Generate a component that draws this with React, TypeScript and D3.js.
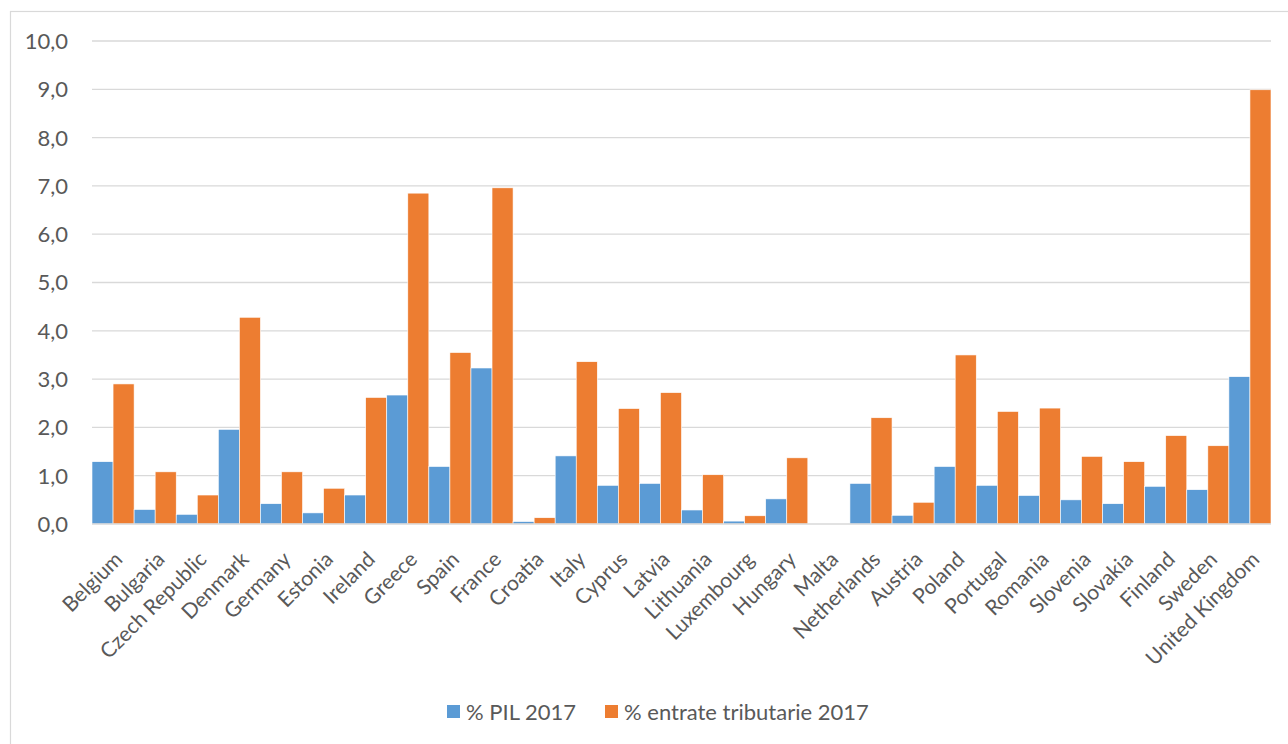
import React, { useEffect, useRef } from "react";
import * as d3 from "d3";

const countries = [
  "Belgium", "Bulgaria", "Czech Republic", "Denmark", "Germany", "Estonia", "Ireland",
  "Greece", "Spain", "France", "Croatia", "Italy", "Cyprus", "Latvia", "Lithuania",
  "Luxembourg", "Hungary", "Malta", "Netherlands", "Austria", "Poland", "Portugal",
  "Romania", "Slovenia", "Slovakia", "Finland", "Sweden", "United Kingdom",
];

// % PIL 2017
const pil = [
  1.29, 0.3, 0.2, 1.96, 0.42, 0.23, 0.6, 2.67, 1.19, 3.23, 0.05, 1.41, 0.8, 0.84,
  0.29, 0.06, 0.52, 0, 0.84, 0.18, 1.19, 0.8, 0.59, 0.5, 0.42, 0.78, 0.71, 3.05,
];

// % entrate tributarie 2017
const entrate = [
  2.9, 1.08, 0.6, 4.28, 1.08, 0.74, 2.62, 6.85, 3.55, 6.96, 0.13, 3.36, 2.39, 2.72,
  1.02, 0.17, 1.37, 0, 2.2, 0.45, 3.5, 2.33, 2.4, 1.4, 1.29, 1.83, 1.62, 8.99,
];

const seriesNames = ["% PIL 2017", "% entrate tributarie 2017"];
const colors = ["#5B9BD5", "#ED7D31"];
const yTicks = [0, 1, 2, 3, 4, 5, 6, 7, 8, 9, 10];

const FONT = "Lato, 'Open Sans', sans-serif";
const TEXT = "#595959";

const App = () => {
  const svgRef = useRef(null);

  useEffect(() => {
    const svg = d3.select(svgRef.current);
    svg.selectAll("*").remove();

    const left = 92, right = 1271, top = 41, bottom = 524;

    const x = d3.scaleBand().domain(countries).range([left, right]).padding(0);
    const xs = d3.scaleBand().domain(seriesNames).range([0, x.bandwidth()]).padding(0);
    const y = d3.scaleLinear().domain([0, 10]).range([bottom, top]);
    const fmt = (v) => d3.format(".1f")(v).replace(".", ",");

    // chart frame
    svg.append("rect")
      .attr("x", 10.5).attr("y", 11.5)
      .attr("width", 1400).attr("height", 900)
      .attr("fill", "white").attr("stroke", "#d9d9d9").attr("stroke-width", 1.2);

    // gridlines
    svg.append("g").selectAll("line").data(yTicks.filter(t => t > 0)).join("line")
      .attr("x1", left).attr("x2", right)
      .attr("y1", d => y(d)).attr("y2", d => y(d))
      .attr("stroke", "#d9d9d9").attr("stroke-width", 1.3);

    // y labels
    svg.append("g").selectAll("text").data(yTicks).join("text")
      .attr("x", 68).attr("y", d => y(d))
      .attr("dy", "0.36em")
      .attr("text-anchor", "end")
      .attr("font-family", FONT).attr("font-size", 22)
      .attr("fill", TEXT)
      .text(d => fmt(d));

    // bars
    const rows = countries.map((c, i) => ({ c, vals: [pil[i], entrate[i]] }));
    const groups = svg.append("g").selectAll("g").data(rows).join("g")
      .attr("transform", d => `translate(${x(d.c)},0)`);
    groups.selectAll("rect")
      .data(d => d.vals.map((v, k) => ({ v, k })))
      .join("rect")
      .attr("x", d => xs(seriesNames[d.k]))
      .attr("y", d => y(d.v))
      .attr("width", xs.bandwidth())
      .attr("height", d => y(0) - y(d.v))
      .attr("fill", d => colors[d.k])
      .attr("stroke", "white").attr("stroke-width", 0.6);

    // axis line
    svg.append("line")
      .attr("x1", left).attr("x2", right)
      .attr("y1", y(0)).attr("y2", y(0))
      .attr("stroke", "#d9d9d9").attr("stroke-width", 1.3);

    // x labels rotated
    svg.append("g").selectAll("text").data(countries).join("text")
      .attr("transform", d => `translate(${x(d) + x.bandwidth() / 2},${bottom + 26}) rotate(-45)`)
      .attr("text-anchor", "end")
      .attr("dy", "0.72em")
      .attr("font-family", FONT).attr("font-size", 21)
      .attr("fill", TEXT)
      .text(d => d);

    // legend
    const legendX = [447, 605];
    const lg = svg.append("g").selectAll("g").data(seriesNames).join("g")
      .attr("transform", (d, i) => `translate(${legendX[i]},705)`);
    lg.append("rect").attr("width", 13).attr("height", 13).attr("fill", (d, i) => colors[i]);
    lg.append("text")
      .attr("x", 19).attr("y", 7).attr("dy", "0.36em")
      .attr("font-family", FONT).attr("font-size", 22)
      .attr("fill", TEXT)
      .text(d => d);
  }, []);

  return (
    <svg ref={svgRef} width={1288} height={744}
      style={{ position: "absolute", left: 0, top: 0, background: "white" }} />
  );
};

export default App;
